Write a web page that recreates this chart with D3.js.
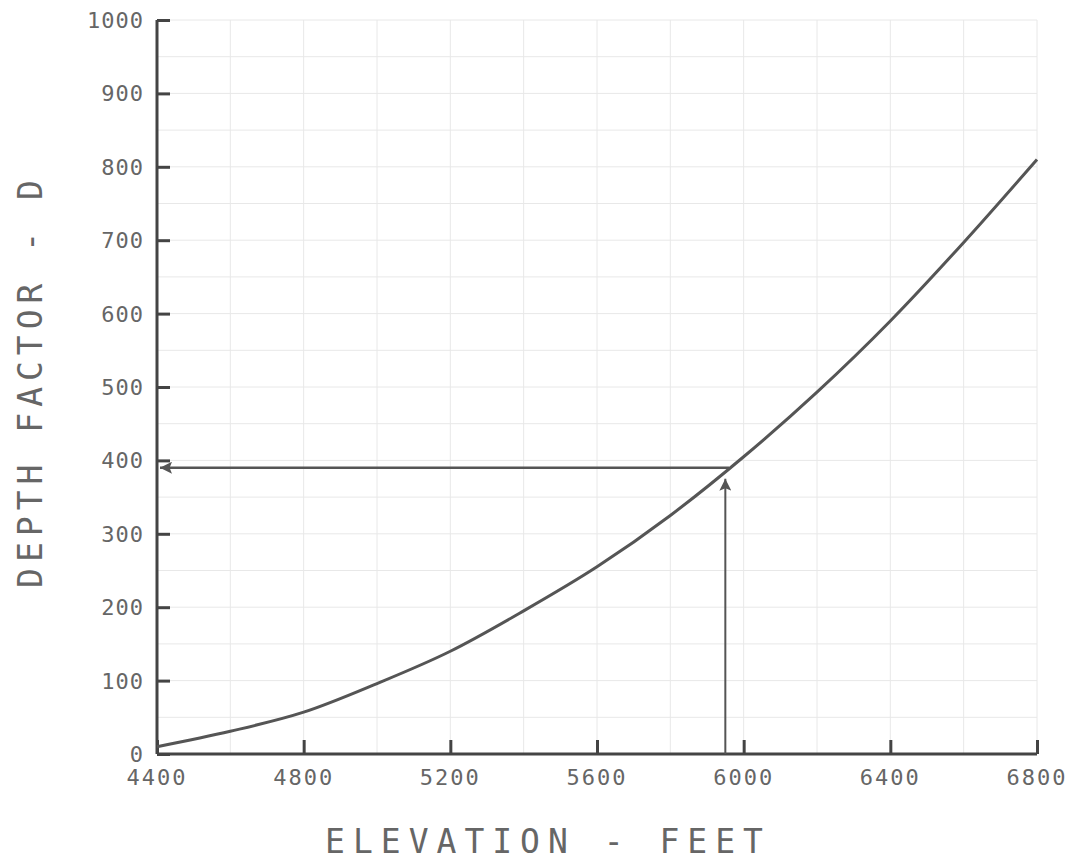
<!DOCTYPE html>
<html>
<head>
<meta charset="utf-8">
<script src="https://cdn.jsdelivr.net/npm/d3@7"></script>
<style>
  body { margin: 0; background: #fff; }
  text { font-family: "DejaVu Sans Mono", monospace; fill: #666; }
</style>
</head>
<body>
<svg id="chart" width="1074" height="864"></svg>
<script>
// depth factor vs elevation
const elevation = [4400, 4600, 4800, 5000, 5200, 5400, 5600, 5800, 6000, 6200, 6400, 6600, 6800];
const depth =     [10,   31,   57,   96,   140,  195,  255,  325,  405,  493,  590,  697,  810];
const xTicks = [4400, 4800, 5200, 5600, 6000, 6400, 6800];
const yTicks = [0, 100, 200, 300, 400, 500, 600, 700, 800, 900, 1000];
const example = { elev: 5950, d: 390, elevCurve: 5960, arrowTop: 375 };

const svg = d3.select('#chart');
const x = d3.scaleLinear().domain([4400, 6800]).range([157, 1037]);
const y = d3.scaleLinear().domain([0, 1000]).range([754, 20]);

// faint grid
const grid = svg.append('g').attr('stroke', '#e8e8e8').attr('stroke-width', 1);
grid.selectAll('.gx').data(d3.range(4600, 6801, 200)).enter().append('line')
  .attr('x1', d => x(d)).attr('x2', d => x(d)).attr('y1', y(0)).attr('y2', y(1000));
grid.selectAll('.gy').data(d3.range(50, 1001, 50)).enter().append('line')
  .attr('y1', d => y(d)).attr('y2', d => y(d)).attr('x1', x(4400)).attr('x2', x(6800));

// arrow marker
const defs = svg.append('defs');
defs.append('marker').attr('id', 'arr')
  .attr('viewBox', '0 0 10 10').attr('refX', 10).attr('refY', 5)
  .attr('markerWidth', 17).attr('markerHeight', 12).attr('markerUnits', 'userSpaceOnUse')
  .attr('orient', 'auto')
  .append('path').attr('d', 'M0,0 L10,5 L0,10 L2,5 Z').attr('fill', '#555');

// axes
const yAxis = d3.axisRight(y).tickValues(yTicks).tickSize(13).tickFormat('');
const gy = svg.append('g').attr('transform', `translate(${x(4400)},0)`).call(yAxis);
gy.select('.domain').attr('stroke', '#444').attr('stroke-width', 3).attr('d', `M0,${y(0)}V${y(1000)}`);
gy.selectAll('.tick line').attr('stroke', '#444').attr('stroke-width', 3);

const xAxis = d3.axisTop(x).tickValues(xTicks).tickSize(14).tickFormat('');
const gx = svg.append('g').attr('transform', `translate(0,${y(0)})`).call(xAxis);
gx.select('.domain').attr('stroke', '#444').attr('stroke-width', 3).attr('d', `M${x(4400)},0H${x(6800)}`);
gx.selectAll('.tick line').attr('stroke', '#444').attr('stroke-width', 3);

// tick labels
svg.append('g').selectAll('text').data(yTicks).enter().append('text')
  .attr('x', x(4400) - 13).attr('y', d => y(d)).attr('dy', '0.36em')
  .attr('text-anchor', 'end').style('font-size', '22px').style('letter-spacing', '1px')
  .text(d => d);
svg.append('g').selectAll('text').data(xTicks).enter().append('text')
  .attr('x', d => x(d)).attr('y', y(0) + 31)
  .attr('text-anchor', 'middle').style('font-size', '22px').style('letter-spacing', '2px')
  .text(d => d);

// axis titles
svg.append('text').attr('x', 548).attr('y', 853).attr('text-anchor', 'middle')
  .style('font-size', '33px').style('letter-spacing', '8px').text('ELEVATION - FEET');
svg.append('text').attr('transform', 'translate(42,381) rotate(-90)').attr('text-anchor', 'middle')
  .style('font-size', '33px').style('letter-spacing', '6px').text('DEPTH FACTOR - D');

// curve
const line = d3.line().x((d, i) => x(elevation[i])).y(d => y(d)).curve(d3.curveMonotoneX);
svg.append('path').datum(depth).attr('d', line)
  .attr('fill', 'none').attr('stroke', '#555').attr('stroke-width', 3);

// example arrows
svg.append('line')
  .attr('x1', x(example.elev)).attr('x2', x(example.elev))
  .attr('y1', y(0)).attr('y2', y(example.arrowTop))
  .attr('stroke', '#555').attr('stroke-width', 2).attr('marker-end', 'url(#arr)');
svg.append('line')
  .attr('x1', x(example.elevCurve)).attr('x2', x(4400) + 3)
  .attr('y1', y(example.d)).attr('y2', y(example.d))
  .attr('stroke', '#555').attr('stroke-width', 2.5).attr('marker-end', 'url(#arr)');
</script>
</body>
</html>
